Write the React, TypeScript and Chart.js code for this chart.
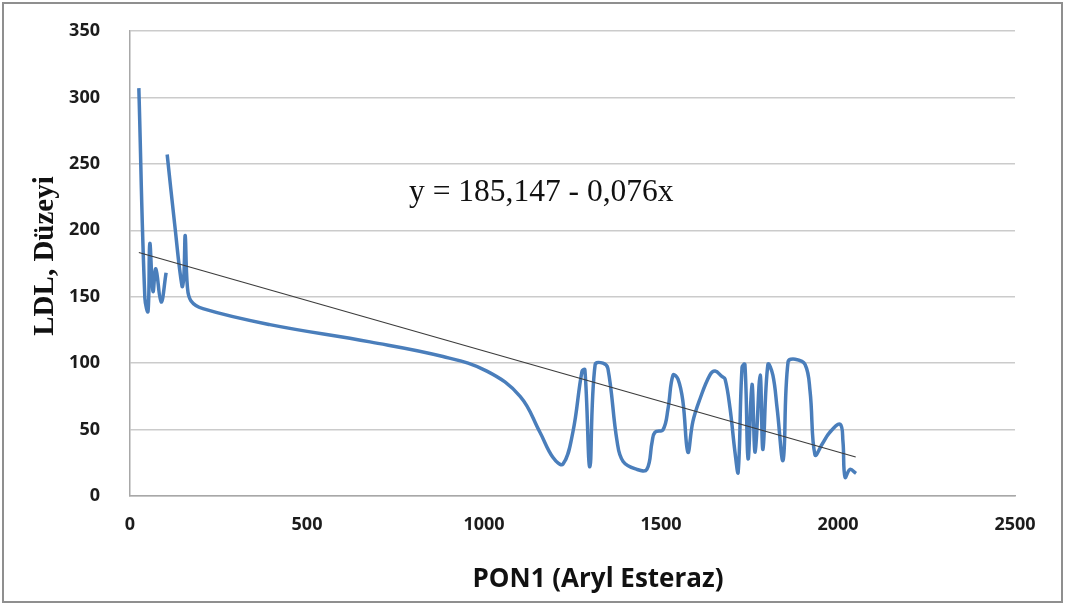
import { useEffect, useRef } from "react";
import { Chart, registerables } from "chart.js";

Chart.register(...registerables);

// PON1 (aryl esterase) activity and LDL level; null marks a break in the line
const pon1Values: number[] = [
  25, 42, 51, 56, 65, 73, 88, 102, 104,
  105, 126, 147, 152, 156, 162, 172, 206, 395, 678, 884, 1008, 1102, 1158, 1195, 1223,
  1251, 1277, 1285, 1299, 1314, 1336, 1350, 1376, 1393, 1432, 1460, 1475, 1483, 1506,
  1520, 1534, 1548, 1562, 1576, 1590, 1610, 1638, 1653, 1672, 1681, 1695, 1709, 1718,
  1729, 1737, 1746, 1757, 1766, 1780, 1788, 1802, 1816, 1828, 1845, 1859, 1879, 1907,
  1921, 1935, 1955, 1977, 2006, 2014, 2020, 2034, 2051,
];
const ldlValues: (number | null)[] = [
  307, 149, 139, 190, 154, 171, 146, 168, null,
  257, 205, 158, 165, 196, 158, 147, 141, 129, 116, 105, 94, 75, 48, 29, 24,
  48, 94, 95, 22, 99, 100, 96, 41, 26, 20, 20, 41, 48, 50,
  66, 91, 88, 71, 33, 56, 73, 91, 94, 90, 88, 66, 33, 18,
  97, 99, 28, 84, 33, 91, 35, 99, 91, 66, 27, 101, 103, 99,
  79, 31, 39, 48, 54, 41, 14, 20, 17,
];

// Linear regression fitted to the series
const trendIntercept = 185.147;
const trendSlope = -0.076;
const trendRange = [25, 2050];
const equationLabel = "y = 185,147 - 0,076x";

const xTitle = "PON1 (Aryl Esteraz)";
const yTitle = "LDL, Düzeyi";

const xTickRange = { min: 0, max: 2500, step: 500 };
const yTickRange = { min: 0, max: 350, step: 50 };

const W = 1065;
const H = 605;

const decorations = {
  id: "decorations",
  afterDraw(chart: Chart) {
    const ctx = chart.ctx;
    ctx.save();
    // outer frame
    ctx.strokeStyle = "#8f8f8f";
    ctx.lineWidth = 2;
    ctx.strokeRect(3, 3, W - 6, H - 6);

    // regression equation
    ctx.fillStyle = "#111111";
    ctx.font = '31.5px "Liberation Serif", "Times New Roman", serif';
    ctx.textAlign = "left";
    ctx.textBaseline = "middle";
    ctx.fillText(equationLabel, 409, 193);

    // x axis title
    ctx.font = 'bold 26px "Open Sans", sans-serif';
    ctx.textAlign = "center";
    ctx.fillText(xTitle, 598, 580);

    // y axis title
    ctx.translate(46, 256);
    ctx.rotate(-Math.PI / 2);
    ctx.font = 'bold 29px "Liberation Serif", "Times New Roman", serif';
    ctx.fillText(yTitle, 0, 0);
    ctx.restore();
  },
};

export default function App() {
  const canvasRef = useRef<HTMLCanvasElement | null>(null);

  useEffect(() => {
    const canvas = canvasRef.current;
    if (!canvas) return;

    const series = pon1Values.map((x, i) => ({ x, y: ldlValues[i] }));
    const trend = trendRange.map((x) => ({ x, y: trendIntercept + trendSlope * x }));

    const tickFont = { family: '"Open Sans", sans-serif', size: 18, weight: "bold" as const };

    const chart = new Chart(canvas, {
      type: "line",
      data: {
        datasets: [
          {
            data: series as any,
            borderColor: "#4a7ebb",
            borderWidth: 3.5,
            pointRadius: 0,
            tension: 0.4,
            spanGaps: false,
            fill: false,
            order: 2,
          },
          {
            data: trend as any,
            borderColor: "#3c3c3c",
            borderWidth: 1.2,
            pointRadius: 0,
            tension: 0,
            fill: false,
            order: 1,
          },
        ],
      },
      options: {
        animation: false,
        responsive: false,
        devicePixelRatio: 1,
        layout: { padding: { left: 0, top: 31, right: 50, bottom: 0 } },
        plugins: {
          legend: { display: false },
          tooltip: { enabled: false },
        },
        scales: {
          x: {
            type: "linear",
            min: xTickRange.min,
            max: xTickRange.max,
            grid: { display: false, drawTicks: false },
            border: { display: true, color: "#a8a8a8", width: 1.5 },
            ticks: {
              stepSize: xTickRange.step,
              color: "#1c1c1c",
              font: tickFont,
              padding: 18,
              maxRotation: 0,
              callback: (v: any) => String(v),
            },
            afterFit(scale: any) {
              scale.height = 109;
            },
          },
          y: {
            type: "linear",
            min: yTickRange.min,
            max: yTickRange.max,
            grid: { color: "#cbcbcb", lineWidth: 1.5, drawTicks: false },
            border: { display: true, color: "#a8a8a8", width: 1.5 },
            ticks: {
              stepSize: yTickRange.step,
              color: "#1c1c1c",
              font: tickFont,
              padding: 30,
              callback: (v: any) => String(v),
            },
            afterFit(scale: any) {
              scale.width = 130;
              scale.paddingTop = 0;
              scale.paddingBottom = 0;
            },
          },
        },
      },
      plugins: [decorations],
    });

    return () => chart.destroy();
  }, []);

  return (
    <div style={{ position: "absolute", left: 0, top: 0, width: W, height: H, background: "#ffffff" }}>
      <canvas ref={canvasRef} width={W} height={H} style={{ display: "block" }} />
    </div>
  );
}
